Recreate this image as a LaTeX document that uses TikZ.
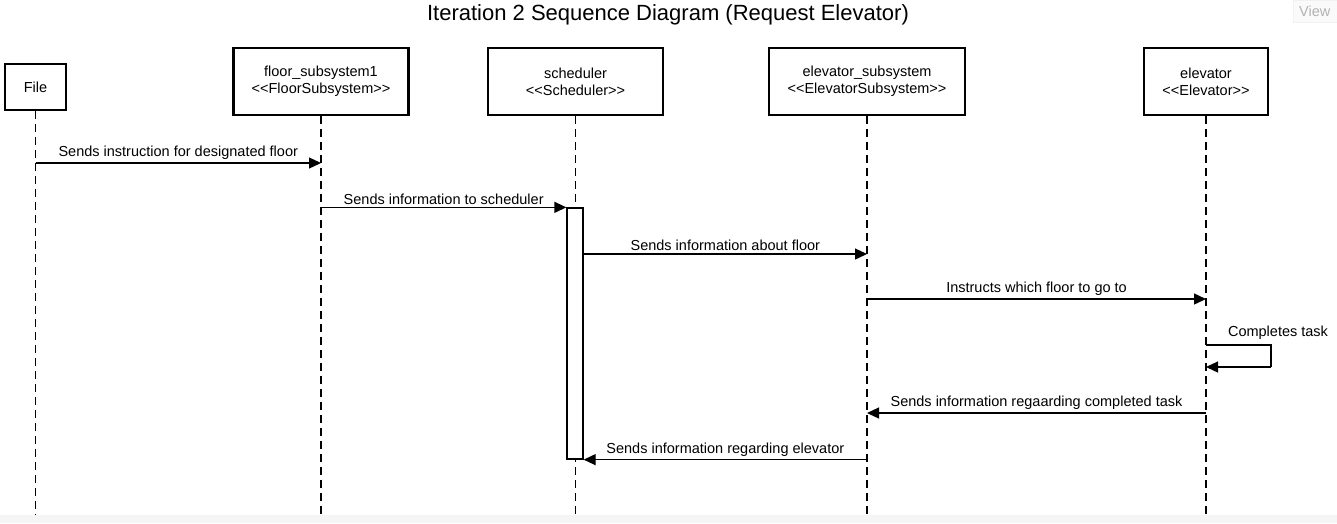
\documentclass[tikz,border=0pt]{standalone}
\usepackage{fontspec}
\setmainfont{Liberation Sans}
\usetikzlibrary{arrows.meta}

\begin{document}
\begin{tikzpicture}[x=1pt, y=-1pt,
    every node/.style={font=\fontsize{14.5}{17}\selectfont},
    actor/.style={draw, line width=2.6pt, align=center, minimum height=67pt, inner sep=0pt},
    lifeline/.style={line width=1.5pt, dash pattern=on 8pt off 5pt},
    msg/.style={line width=1.3pt, -{Triangle[length=12pt, width=11pt]}},
    msglabel/.style={midway, above, inner sep=2.5pt}]

    \useasboundingbox (0,0) rectangle (1337,523);
    \fill[black!4] (0,515) rectangle (1337,523);

    % Title
    \node[font=\fontsize{22}{26}\selectfont] (title) at (668,15) {Iteration 2 Sequence Diagram (Request Elevator)};
    \node[fill=black!2, draw=black!5, text=black!30, minimum width=44pt, minimum height=22pt, anchor=north east] (view) at (1337,0) {View};

    % Nodes
    \node[actor, minimum width=61pt, minimum height=46pt] (file) at (35.5,87) {File};
    \node[actor, minimum width=175pt] (floor) at (321,81.5) {floor\_subsystem1\\<{}<FloorSubsystem>{}>};
    \node[actor, minimum width=175pt] (sched) at (575.5,81.5) {scheduler\\<{}<Scheduler>{}>};
    \node[actor, minimum width=196pt] (elevsub) at (867,81.5) {elevator\_subsystem\\<{}<ElevatorSubsystem>{}>};
    \node[actor, minimum width=124pt] (elev) at (1206,81.5) {elevator\\<{}<Elevator>{}>};

    % Lifelines
    \coordinate (fileend) at (file.south |- 0,515);
    \coordinate (floorend) at (floor.south |- 0,515);
    \coordinate (schedend) at (sched.south |- 0,515);
    \coordinate (elevsubend) at (elevsub.south |- 0,515);
    \coordinate (elevend) at (elev.south |- 0,515);
    \draw[lifeline] (file.south) -- (fileend);
    \draw[lifeline] (floor.south) -- (floorend);
    \draw[lifeline] (sched.south) -- (schedend);
    \draw[lifeline] (elevsub.south) -- (elevsubend);
    \draw[lifeline] (elev.south) -- (elevend);

    \node[draw, fill=white, line width=1.3pt, minimum width=16pt, minimum height=251pt, inner sep=0pt] (act) at (575,333.5) {};

    % Lines
    \draw[msg] (file |- 0,163) -- node[msglabel] {Sends instruction for designated floor} (floor |- 0,163);
    \draw[msg] (floor |- act.north) -- node[msglabel] {Sends information to scheduler} (act.north west);
    \draw[msg] (act.east |- 0,254) -- node[msglabel] {Sends information about floor} (elevsub |- 0,254);
    \draw[msg] (elevsub |- 0,299) -- node[msglabel] {Instructs which floor to go to} (elev |- 0,299);
    \draw[line width=1.3pt] (elev |- 0,345) -- (1271,345) -- (1271,367);
    \draw[msg] (1271,367) -- (elev |- 0,367);
    \node (selflabel) at (1278,333) {Completes task};
    \draw[msg] (elev |- 0,413) -- node[msglabel] {Sends information regaarding completed task} (elevsub |- 0,413);
    \draw[msg] (elevsub |- act.south) -- node[msglabel] {Sends information regarding elevator} (act.south east);

\end{tikzpicture}
\end{document}
